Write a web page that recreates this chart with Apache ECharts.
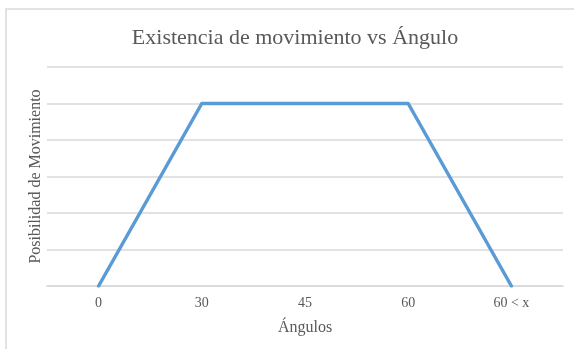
<!DOCTYPE html>
<html>
<head>
<meta charset="utf-8">
<script src="https://cdn.jsdelivr.net/npm/echarts@6/dist/echarts.min.js"></script>
<style>
  html, body { margin: 0; padding: 0; background: #ffffff; }
  #chart { width: 574px; height: 349px; }
</style>
</head>
<body>
<div id="chart"></div>
<script>
// Angle categories along the horizontal axis
const angleCategories = ['0', '30', '45', '60', '60 < x'];
// Movement possibility at each angle
const movementValues = [0, 1, 1, 1, 0];

const textColor = '#595959';
const serif = '"Liberation Serif", "Times New Roman", serif';

const chart = echarts.init(document.getElementById('chart'), null, { renderer: 'canvas' });

chart.setOption({
  backgroundColor: '#ffffff',
  animation: false,
  graphic: [{
    type: 'rect',
    shape: { x: 6, y: 9, width: 600, height: 400 },
    style: { fill: 'none', stroke: '#d9d9d9', lineWidth: 1.5 },
    silent: true
  }],
  title: {
    text: 'Existencia de movimiento vs Ángulo',
    left: 290,
    top: 22,
    textAlign: 'center',
    textStyle: {
      fontFamily: serif,
      fontSize: 22,
      fontWeight: 'normal',
      color: textColor
    }
  },
  grid: { left: 47, right: 11, top: 67, bottom: 63 },
  xAxis: {
    type: 'category',
    data: angleCategories,
    boundaryGap: true,
    name: 'Ángulos',
    nameLocation: 'middle',
    nameGap: 34,
    nameTextStyle: { fontFamily: serif, fontSize: 16, color: textColor },
    axisLine: { show: true, lineStyle: { color: '#d9d9d9', width: 1.5 } },
    axisTick: { show: false },
    axisLabel: { fontFamily: serif, fontSize: 14, color: textColor, margin: 10 },
    splitLine: { show: false }
  },
  yAxis: {
    type: 'value',
    min: 0,
    max: 1.2,
    interval: 0.2,
    name: 'Posibilidad de Movimiento',
    nameLocation: 'middle',
    nameRotate: 90,
    nameGap: 3,
    nameTextStyle: { fontFamily: serif, fontSize: 16, color: textColor },
    axisLine: { show: false },
    axisTick: { show: false },
    axisLabel: { show: false },
    splitLine: { show: true, lineStyle: { color: '#d9d9d9', width: 1.5 } }
  },
  series: [{
    type: 'line',
    data: movementValues,
    symbol: 'none',
    lineStyle: { color: '#5b9bd5', width: 3.5, join: 'round', cap: 'round' },
    z: 3
  }]
});
</script>
</body>
</html>
